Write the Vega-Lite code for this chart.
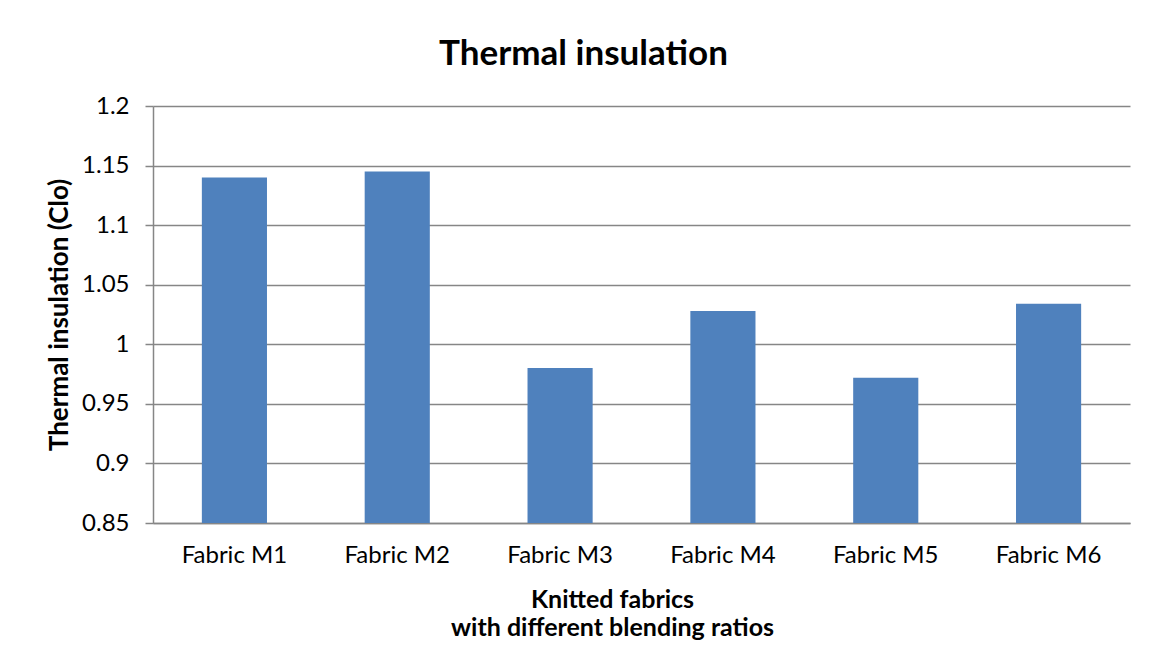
{
  "$schema": "https://vega.github.io/schema/vega-lite/v6.json",
  "autosize": {"type": "none"},
  "width": 977,
  "height": 417,
  "padding": {"left": 153, "top": 106, "right": 19, "bottom": 149},
  "background": "white",
  "title": {
    "text": "Thermal insulation",
    "font": "Lato",
    "fontSize": 35,
    "fontWeight": "bold",
    "color": "#000000",
    "anchor": "middle",
    "baseline": "alphabetic",
    "dx": -58,
    "offset": -6
  },
  "data": {
    "values": [
      {"fabric": "Fabric M1", "clo": 1.14},
      {"fabric": "Fabric M2", "clo": 1.145},
      {"fabric": "Fabric M3", "clo": 0.98},
      {"fabric": "Fabric M4", "clo": 1.028},
      {"fabric": "Fabric M5", "clo": 0.972},
      {"fabric": "Fabric M6", "clo": 1.034}
    ]
  },
  "mark": {"type": "bar", "color": "#4F81BD", "clip": true},
  "encoding": {
    "x": {
      "field": "fabric",
      "type": "nominal",
      "sort": null,
      "scale": {"paddingInner": 0.6, "paddingOuter": 0.3},
      "axis": {
        "title": ["Knitted fabrics", "with different blending ratios"],
        "titleFont": "Lato",
        "titleFontSize": 25,
        "titleFontWeight": "bold",
        "titleColor": "#000000",
        "titleLineHeight": 28,
        "titlePadding": 20,
        "titleX": 459,
        "labelFont": "Lato",
        "labelFontSize": 24,
        "labelColor": "#000000",
        "labelAngle": 0,
        "labelPadding": 20,
        "ticks": false,
        "domainColor": "#868686",
        "domainWidth": 1.5
      }
    },
    "y": {
      "field": "clo",
      "type": "quantitative",
      "scale": {"domain": [0.85, 1.2], "zero": false, "nice": false},
      "axis": {
        "title": "Thermal insulation (Clo)",
        "titleFont": "Lato",
        "titleFontSize": 26,
        "titleFontWeight": "bold",
        "titleColor": "#000000",
        "titlePadding": 9,
        "values": [0.85, 0.9, 0.95, 1, 1.05, 1.1, 1.15, 1.2],
        "labelExpr": "datum.value == 1 ? '1' : format(datum.value, '.2~f')",
        "labelFont": "Lato",
        "labelFontSize": 24,
        "labelColor": "#000000",
        "labelPadding": 16,
        "tickSize": 8,
        "tickColor": "#868686",
        "tickWidth": 1.5,
        "domainColor": "#868686",
        "domainWidth": 1.5,
        "grid": true,
        "gridColor": "#868686",
        "gridWidth": 1.5
      }
    }
  },
  "config": {"view": {"stroke": null}}
}
